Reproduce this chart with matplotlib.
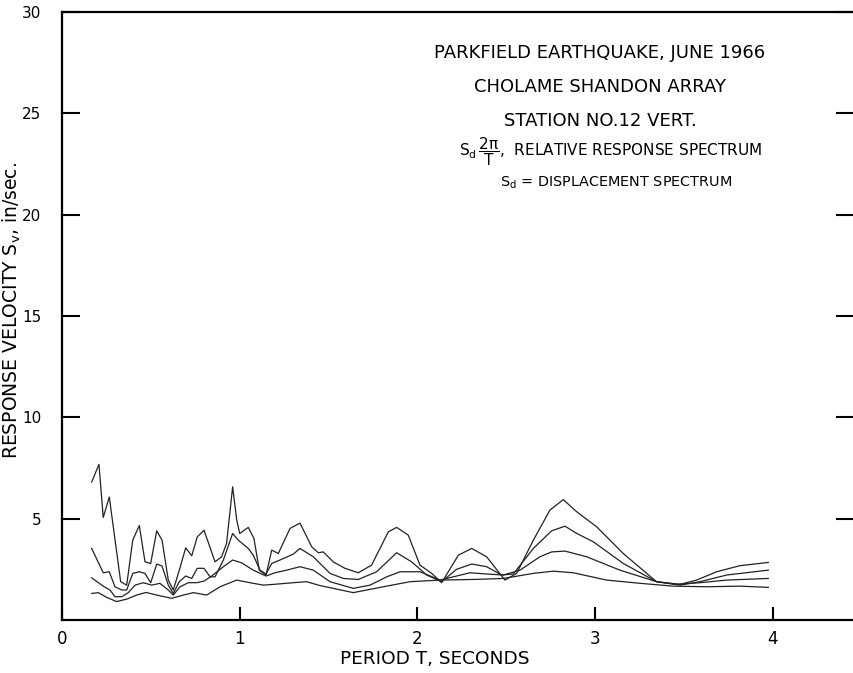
import matplotlib
matplotlib.use("Agg")
import matplotlib.pyplot as plt

# Response velocity spectra, Station No. 12 vertical, four damping levels
# (curve 1 = least damped, curve 4 = most damped)
period_1 = [0.167, 0.208, 0.232, 0.266, 0.33, 0.364, 0.398, 0.435, 0.467, 0.499,
            0.533, 0.563, 0.598, 0.626, 0.66, 0.696, 0.73, 0.761, 0.799, 0.861,
            0.898, 0.926, 0.96, 0.983, 1.0, 1.048, 1.08, 1.11, 1.148, 1.18,
            1.217, 1.283, 1.339, 1.405, 1.442, 1.47, 1.526, 1.592, 1.667, 1.742,
            1.836, 1.883, 1.948, 2.014, 2.08, 2.136, 2.23, 2.305, 2.389, 2.492,
            2.558, 2.652, 2.745, 2.82, 2.896, 3.008, 3.158, 3.345, 3.477, 3.571,
            3.683, 3.814, 3.974]
sv_1 = [6.81, 7.68, 5.06, 6.07, 1.89, 1.72, 3.94, 4.66, 2.87, 2.79,
        4.40, 3.94, 1.97, 1.48, 2.46, 3.56, 3.17, 4.10, 4.43, 2.87,
        3.12, 3.78, 6.57, 4.93, 4.27, 4.57, 4.02, 2.46, 2.22, 3.45,
        3.28, 4.52, 4.78, 3.61, 3.32, 3.36, 2.87, 2.55, 2.33, 2.71,
        4.35, 4.57, 4.19, 2.71, 2.30, 1.84, 3.20, 3.53, 3.12, 1.97,
        2.30, 3.94, 5.42, 5.94, 5.34, 4.60, 3.28, 1.89, 1.76, 1.97,
        2.38, 2.68, 2.84]

period_2 = [0.167, 0.232, 0.266, 0.298, 0.336, 0.364, 0.398, 0.435, 0.467, 0.499,
            0.533, 0.563, 0.598, 0.626, 0.66, 0.696, 0.73, 0.761, 0.799, 0.833,
            0.861, 0.908, 0.96, 0.992, 1.048, 1.076, 1.114, 1.148, 1.18, 1.226,
            1.301, 1.339, 1.414, 1.508, 1.583, 1.667, 1.77, 1.883, 1.967, 2.052,
            2.136, 2.22, 2.305, 2.389, 2.473, 2.539, 2.652, 2.755, 2.83, 2.896,
            2.989, 3.158, 3.345, 3.477, 3.589, 3.74, 3.974]
sv_2 = [3.53, 2.33, 2.38, 1.64, 1.48, 1.48, 2.30, 2.38, 2.30, 1.84,
        2.76, 2.66, 1.72, 1.31, 1.89, 2.17, 2.05, 2.55, 2.55, 2.13,
        2.13, 2.96, 4.27, 3.94, 3.53, 3.20, 2.46, 2.27, 2.79, 2.96,
        3.25, 3.53, 3.12, 2.30, 2.05, 2.00, 2.38, 3.32, 2.87, 2.22,
        1.89, 2.50, 2.76, 2.63, 2.22, 2.27, 3.53, 4.40, 4.63, 4.27,
        3.86, 2.79, 1.89, 1.72, 1.89, 2.22, 2.46]

period_3 = [0.167, 0.232, 0.27, 0.298, 0.336, 0.373, 0.411, 0.457, 0.505, 0.551,
            0.598, 0.626, 0.664, 0.711, 0.757, 0.799, 0.842, 0.908, 0.96, 1.011,
            1.076, 1.148, 1.198, 1.264, 1.339, 1.414, 1.508, 1.639, 1.733, 1.827,
            1.902, 2.014, 2.127, 2.295, 2.389, 2.483, 2.577, 2.689, 2.755, 2.83,
            2.952, 3.139, 3.345, 3.458, 3.589, 3.74, 3.974]
sv_3 = [2.08, 1.67, 1.48, 1.15, 1.15, 1.35, 1.72, 1.84, 1.72, 1.81,
        1.48, 1.23, 1.64, 1.84, 1.84, 1.92, 2.17, 2.63, 2.96, 2.82,
        2.46, 2.17, 2.33, 2.46, 2.63, 2.46, 1.89, 1.56, 1.72, 2.13,
        2.38, 2.38, 1.97, 2.33, 2.27, 2.22, 2.46, 3.12, 3.36, 3.40,
        3.12, 2.46, 1.89, 1.76, 1.84, 1.97, 2.05]

period_4 = [0.167, 0.204, 0.251, 0.307, 0.364, 0.42, 0.473, 0.533, 0.617, 0.683,
            0.739, 0.814, 0.889, 0.983, 1.058, 1.133, 1.208, 1.301, 1.376, 1.451,
            1.639, 1.808, 1.958, 2.127, 2.314, 2.483, 2.652, 2.764, 2.877, 3.064,
            3.252, 3.439, 3.627, 3.814, 3.974]
sv_4 = [1.31, 1.35, 1.12, 0.91, 1.03, 1.23, 1.36, 1.23, 1.07, 1.23,
        1.35, 1.23, 1.64, 1.97, 1.84, 1.72, 1.77, 1.84, 1.89, 1.70,
        1.35, 1.64, 1.89, 1.97, 2.00, 2.05, 2.30, 2.41, 2.33, 1.97,
        1.81, 1.67, 1.64, 1.67, 1.61]

x_ticks = [0, 1, 2, 3, 4]
x_tick_labels = ["0", "1", "2", "3", "4"]
y_ticks = [5, 10, 15, 20, 25, 30]
y_tick_labels = ["5", "10", "15", "20", "25", "30"]

title_lines = ["PARKFIELD EARTHQUAKE, JUNE 1966",
               "CHOLAME SHANDON ARRAY",
               "STATION NO.12 VERT."]

plt.rcParams["font.family"] = ["DejaVu Sans"]

fig = plt.figure(figsize=(8.54, 6.73), dpi=100)
ax = fig.add_axes([62 / 854, 53 / 673, 1 - 62 / 854, 608 / 673])

for T, sv in [(period_1, sv_1), (period_2, sv_2), (period_3, sv_3), (period_4, sv_4)]:
    ax.plot(T, sv, color="#222222", linewidth=0.9)

ax.set_xlim(0, 4.456)
ax.set_ylim(0, 30)

ax.set_xticks(x_ticks)
ax.set_xticklabels(x_tick_labels)
ax.set_yticks(y_ticks)
ax.set_yticklabels(y_tick_labels)

for s in ["left", "bottom", "top"]:
    ax.spines[s].set_linewidth(1.6)
ax.spines["right"].set_visible(False)

ax.tick_params(axis="y", direction="in", length=13, width=1.5, labelsize=11,
               pad=15, right=True)
ax.tick_params(axis="x", direction="in", length=9.5, width=1.5, labelsize=12,
               pad=7)

ax.set_xlabel("PERIOD T, SECONDS", fontsize=13.3, va="center")
ax.xaxis.set_label_coords((435 - 62) / 792, -(659 - 620) / 608)

fig.text(12 / 854, 1 - 310 / 673, r"RESPONSE VELOCITY S$_\mathregular{v}$, in/sec.",
         rotation=90, fontsize=13.5, ha="center", va="center")

for i, line in enumerate(title_lines):
    fig.text(600 / 854, 1 - (53 + 34 * i) / 673, line, fontsize=13,
             ha="center", va="center")

fig.text(611 / 854, 1 - 152 / 673,
         r"S$_\mathregular{d}\,\dfrac{\mathregular{2\pi}}{\mathregular{T}}$,  RELATIVE RESPONSE SPECTRUM",
         fontsize=11, ha="center", va="center")
fig.text(616 / 854, 1 - 183 / 673, r"S$_\mathregular{d}$ = DISPLACEMENT SPECTRUM",
         fontsize=10.4, ha="center", va="center")

fig.savefig("out.png", dpi=100)
